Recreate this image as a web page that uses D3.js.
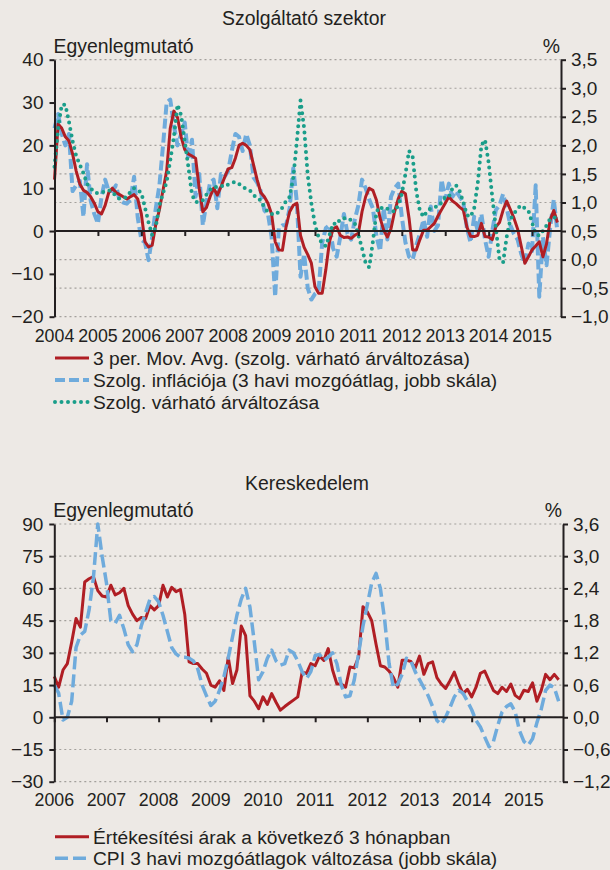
<!DOCTYPE html>
<html>
<head>
  <meta charset="utf-8">
  <title>Szolgáltató szektor / Kereskedelem</title>
  <script src="https://cdn.jsdelivr.net/npm/d3@7"></script>
  <style>
    body { margin: 0; background: #ede9e5; }
    svg { display: block; font-family: "Liberation Sans", Arial, sans-serif; }
    text { fill: #231f20; }
    .grid line { stroke: #a3a09c; stroke-width: 1.2; stroke-dasharray: 2 3; }
    .axis path, .axis line { stroke: #231f20; stroke-width: 2; }
    .axis text { font-size: 19px; }
    .year { font-size: 17.8px; }
    .title { font-size: 19.4px; }
    .legend text { font-size: 19.2px; }
  </style>
</head>
<body>
<script>
  // ---------- Szolgáltató szektor: havi adatok, 2004. jan – 2015. aug. ----------
  var topYears = [2004, 2005, 2006, 2007, 2008, 2009, 2010, 2011, 2012, 2013, 2014, 2015];
  var topLeftTicks = [-20, -10, 0, 10, 20, 30, 40];
  var topRightTicks = [-1, -0.5, 0, 0.5, 1, 1.5, 2, 2.5, 3, 3.5];

  // 3 per. Mov. Avg. (szolg. várható árváltozása) – bal skála
  var svcMovAvg = [
    12, 25, 24, 22, 21, 18, 14, 11, 9.5, 9,
    8, 6.5, 4.5, 4, 6, 9, 10, 9, 8.5, 8,
    7.5, 8, 8.5, 7.5, 4, -2.5, -3.7, -3.3, 1.5, 5,
    9.6, 14, 24, 28, 26.5, 22, 19, 18, 17.5, 17,
    10, 4.5, 5.5, 8, 10, 8.4, 10.3, 12.5, 14.5, 14.8,
    17, 20, 20.5, 20, 19, 15.5, 12, 9, 8, 6.5,
    4, -2.5, -4.4, -4.5, 1, 4.5, 6, 6.5, -1, -3.8,
    -5.5, -7.5, -13, -14.5, -14.5, -9, -2.5, 0.5, 1, -1,
    -1.5, -1.4, -1.7, -1, -0.5, 4.5, 8, 10, 9.5, 7.2,
    3, 0.2, -1.4, 0.5, 4.5, 7.5, 9.3, 8.7, 3, -4.4,
    -4.4, -2, 0.2, 0.2, 1, 1.8, 3.5, 5, 6.5, 8,
    7, 6.4, 5.6, 4.9, 0.9, -1.2, -1.3, -1, 1.8, -1.3,
    -1.4, -2, 1, 2, 4.9, 7, 5, 3, 0.5, -3.5,
    -7.5, -6, -4.4, -3.5, -2.5, -6, -3, 2.6, 4.8, 2
  ];

  // Szolg. inflációja (3 havi mozgóátlag) – jobb skála, %
  var svcInflation = [
    2.3, 2.55, 2.2, 2.0, 2.2, 1.2, 1.3, 1.38, 0.75, 1.67,
    1.03, 0.8, 0.63, 1.1, 1.4, 1.2, 1.2, 1.3, 1.03, 1.0,
    0.98, 1.05, 1.45, 0.74, 0.35, 0.3, -0.01, 0.4, 0.9, 1.3,
    2.0, 2.75, 2.8, 2.35, 2.0, 2.2, 2.4, 1.75, 2.1, 1.1,
    1.5, 0.6, 1.0, 1.35, 1.4, 0.9, 1.5, 1.45, 1.55, 1.9,
    2.2, 2.15, 1.9, 2.2, 2.0, 1.44, 1.35, 1.2, 0.86, 0.8,
    0.4, -0.65, 0.55, 0.6, 0.6, 0.9, 1.6, 1.0, -0.3, 0.1,
    -0.5, -0.7, -0.6, -0.55, 0.3, 0.55, 0.6, 0.2, 0.05, 0.4,
    0.8, 0.45, 0.35, 0.7, 0.95, 1.4, 1.25, 1.05, 0.9, 0.4,
    0.15, 0.9, 0.35, 1.1, 1.25, 1.33, 0.75, 0.3, 0.05, 0.0,
    0.25, 0.45, 0.7, 0.4, 0.93, 0.5, 0.6, 1.4, 1.05, 1.33,
    1.1, 1.2, 1.1, 1.0, 0.55, 0.3, 0.75, 0.5, 0.8, 0.35,
    0.05, 0.5, 0.87, 0.95, 1.15, 0.9, 0.6, 0.45, 0.35, 0.1,
    -0.07, 0.28, 0.15, 1.3, -0.65, 0.4, -0.1, 0.55, 1.05, 0.5
  ];

  // Szolg. várható árváltozása – bal skála
  var svcExpected = [
    15, 24, 29.5, 29.5, 25.5, 21, 17.5, 15.5, 13.5, 11,
    10, 9, 8.8, 9, 9.2, 9.5, 9.2, 8, 7.5, 7.6,
    8, 9.2, 10, 9.5, 9, 5.5, 2, -0.9, 1, 6,
    8.8, 11.5, 16.5, 22, 29.5, 27, 21, 15, 8.5, 6.8,
    6.8, 7.2, 8.5, 9.6, 10.3, 10.3, 10.3, 11, 10.8, 11.2,
    11.5, 11, 10.3, 9.8, 9.5, 8.5, 7.6, 7.2, 5.5, 4.5,
    4, 3.8, 4.5, 5.5, 7, 8, 12.5, 21, 30.5, 24,
    13, 6.5, 1.5, -1.5, -3, -3.5, -1, 1.8, 1.5, 2.8,
    3, 3, 2.5, 1.8, -1, -4, -7.5, -8.5, -2.5, 4.5,
    5.7, 5, 5.2, 4.8, 4.5, 6, 8.7, 13.3, 18.7, 17.3,
    9.3, 4.7, 3.3, 4.7, 5.3, 5.6, 5.7, 6.7, 8, 8,
    10, 10.7, 9.3, 6.7, 3.7, 3.3, 5.3, 11.3, 20, 21.3,
    16, 8, 0.7, -6.7, -7.3, -1.3, 2.7, 4, 5.3, 6,
    5.3, 4.7, 2, -0.7, -1.1, 0, 1.3, 2.9, 3.1, 3.3
  ];

  // ---------- Kereskedelem: havi adatok, 2006. jan – 2015. szept. ----------
  var botYears = [2006, 2007, 2008, 2009, 2010, 2011, 2012, 2013, 2014, 2015];
  var botLeftTicks = [-30, -15, 0, 15, 30, 45, 60, 75, 90];
  var botRightTicks = [-1.2, -0.6, 0, 0.6, 1.2, 1.8, 2.4, 3.0, 3.6];

  // Értékesítési árak a következő 3 hónapban – bal skála
  var tradePrices = [
    19, 14, 22, 25, 35, 46, 42, 63, 64.5, 65.5,
    59, 56.5, 56, 61.5, 57, 58, 60, 52, 48, 45,
    46.5, 46, 52, 50, 52, 61.5, 56, 60.5, 58.5, 59.5,
    48, 25.8, 25, 25, 22.5, 20.5, 15, 14, 17, 12.5,
    28, 15.7, 22, 42.5, 38, 10, 7.5, 4, 9.5, 6,
    11, 7, 3.3, 5, 6.5, 8, 9.5, 21, 20.4, 25,
    24, 28.5, 26.5, 32, 22, 15.5, 15.5, 14, 23.4, 23,
    28, 51.5, 49, 45, 34, 24, 23.4, 21.5, 18.5, 14,
    26.6, 26.6, 26, 23, 28.5, 20, 25, 25.8, 18.5, 15.5,
    13.4, 17, 21, 15.5, 11, 13, 9.5, 14, 20.5, 21.5,
    17, 12.5, 11, 14, 12, 15.5, 10.2, 8.7, 12.6, 12,
    16, 7.5, 12.5, 20, 17.5, 20, 17.5
  ];

  // CPI 3 havi mozgóátlagok változása – jobb skála, %
  var cpiChange = [
    0.6, 0.45, -0.05, 0.0, 0.3, 1.3, 1.53, 1.6, 2.0, 2.6,
    3.6, 3.0, 2.5, 1.8, 1.75, 1.9, 1.65, 1.35, 1.22, 1.35,
    1.7, 1.95, 2.2, 2.25, 2.15, 1.9, 1.6, 1.3, 1.18, 1.12,
    1.12, 1.1, 1.05, 0.9, 0.6, 0.4, 0.22, 0.3, 0.5, 0.75,
    1.1, 1.5, 1.9, 2.2, 2.4, 2.05, 1.4, 0.7, 0.85, 1.1,
    1.25, 1.05, 0.97, 1.0, 1.25, 1.2, 1.05, 0.85, 0.72, 0.85,
    1.15, 1.17, 1.06, 1.12, 1.2, 1.0, 0.6, 0.38, 0.4, 0.7,
    1.2, 1.7, 2.1, 2.5, 2.68, 2.4, 1.8, 1.0, 0.55, 0.62,
    0.8, 1.1, 1.05, 0.85, 0.7, 0.55, 0.4, 0.2, -0.06, -0.13,
    0.0, 0.18, 0.38, 0.5, 0.45, 0.3, 0.14, -0.06, -0.18, -0.37,
    -0.55, -0.45, -0.15, 0.1, 0.2, 0.25, 0.1, -0.25, -0.45, -0.52,
    -0.4, -0.1, 0.15, 0.5, 0.6, 0.55, 0.3
  ];

  var RED = "#b01e24", BLUE = "#6fabdc", TEAL = "#1a9e8a";

  var hu = d3.formatLocale({ decimal: ",", thousands: " ", grouping: [3], currency: ["", ""], minus: "\u2212" });
  var fmtInt = hu.format("d"), fmt1 = hu.format(".1f");

  var svg = d3.select("body").append("svg")
      .attr("width", 610)
      .attr("height", 870);

  svg.append("rect").attr("width", 610).attr("height", 870).attr("fill", "#ede9e5");

  // draws one panel (both charts share the same structure)
  function drawPanel(cfg) {
    var g = svg.append("g");

    var x = d3.scaleLinear().domain([0, cfg.monthSpan]).range([cfg.left, cfg.right]);
    var yL = d3.scaleLinear().domain(cfg.leftDomain).range([cfg.bottom, cfg.top]);
    var yR = d3.scaleLinear().domain(cfg.rightDomain).range([cfg.bottom, cfg.top]);

    // dotted gridlines
    g.append("g").attr("class", "grid")
      .selectAll("line")
      .data(cfg.gridTicks)
      .enter().append("line")
        .attr("x1", cfg.left).attr("x2", cfg.right)
        .attr("y1", function(d) { return yR(d); })
        .attr("y2", function(d) { return yR(d); });

    // series, drawn in z-order
    cfg.drawOrder.forEach(function(k) {
      var s = cfg.series[k];
      var y = s.axis === "right" ? yR : yL;
      var line = d3.line()
        .x(function(d, i) { return x(i); })
        .y(function(d) { return y(d); });
      g.append("path")
        .datum(s.values)
        .attr("fill", "none")
        .attr("stroke", s.color)
        .attr("stroke-width", s.width)
        .attr("stroke-dasharray", s.dash || null)
        .attr("stroke-linecap", s.cap || "butt")
        .attr("stroke-linejoin", "round")
        .attr("d", line);
    });

    // zero line with yearly ticks
    var yearTicks = cfg.years.map(function(yr, i) { return i * 12; });
    g.append("g").attr("class", "axis")
      .attr("transform", "translate(0," + yL(0) + ")")
      .call(d3.axisBottom(x).tickValues(yearTicks).tickSize(5).tickSizeOuter(0).tickFormat(""))
      .select(".domain").attr("d", "M" + cfg.left + ",0H" + cfg.right);

    g.append("g").selectAll("text")
      .data(cfg.years)
      .enter().append("text")
        .attr("class", "year")
        .attr("x", function(d, i) { return x(i * 12); })
        .attr("y", cfg.yearBaseline)
        .attr("text-anchor", "middle")
        .text(function(d) { return d; });

    // left and right axes
    g.append("g").attr("class", "axis")
      .attr("transform", "translate(" + cfg.left + ",0)")
      .call(d3.axisLeft(yL).tickValues(cfg.leftTicks).tickSize(5).tickSizeOuter(0).tickPadding(6).tickFormat(fmtInt));

    g.append("g").attr("class", "axis")
      .attr("transform", "translate(" + cfg.right + ",0)")
      .call(d3.axisRight(yR).tickValues(cfg.rightTicks).tickSize(5).tickSizeOuter(0).tickPadding(5).tickFormat(fmt1));

    // titles
    g.append("text").attr("class", "title")
      .attr("x", cfg.titleX).attr("y", cfg.titleY)
      .attr("text-anchor", "middle")
      .text(cfg.title);
    g.append("text").attr("class", "title")
      .attr("x", cfg.left - 1).attr("y", cfg.unitY)
      .text("Egyenlegmutató");
    g.append("text").attr("class", "title")
      .attr("x", cfg.right - 1).attr("y", cfg.unitY)
      .attr("text-anchor", "end")
      .text("%");

    // legend, in the order of the series list
    var leg = g.append("g").attr("class", "legend");
    cfg.series.forEach(function(s, i) {
      var ly = cfg.legendY + i * cfg.legendStep;
      leg.append("line")
        .attr("x1", 55).attr("x2", 89)
        .attr("y1", ly).attr("y2", ly)
        .attr("stroke", s.color)
        .attr("stroke-width", s.width)
        .attr("stroke-dasharray", s.dash || null)
        .attr("stroke-linecap", s.cap || "butt");
      leg.append("text")
        .attr("x", 93).attr("y", ly + 6.9)
        .text(s.label);
    });
  }

  drawPanel({
    title: "Szolgáltató szektor", titleX: 304, titleY: 25, unitY: 52.5,
    left: 54.5, right: 561, top: 59.7, bottom: 316.7, monthSpan: 140,
    leftDomain: [-20, 40], rightDomain: [-1, 3.5],
    leftTicks: topLeftTicks, rightTicks: topRightTicks, gridTicks: topRightTicks,
    years: topYears, yearBaseline: 342,
    legendY: 358, legendStep: 22,
    drawOrder: [1, 0, 2],
    series: [
      { label: "3 per. Mov. Avg. (szolg. várható árváltozása)", values: svcMovAvg, axis: "left", color: RED, width: 3 },
      { label: "Szolg. inflációja (3 havi mozgóátlag, jobb skála)", values: svcInflation, axis: "right", color: BLUE, width: 4, dash: "10 4" },
      { label: "Szolg. várható árváltozása", values: svcExpected, axis: "left", color: TEAL, width: 4, dash: "0 6.5", cap: "round" }
    ]
  });

  drawPanel({
    title: "Kereskedelem", titleX: 307, titleY: 490, unitY: 516.5,
    left: 54.3, right: 563, top: 524, bottom: 781.7, monthSpan: 117,
    leftDomain: [-30, 90], rightDomain: [-1.2, 3.6],
    leftTicks: botLeftTicks, rightTicks: botRightTicks, gridTicks: botRightTicks,
    years: botYears, yearBaseline: 806,
    legendY: 836.7, legendStep: 21.6,
    drawOrder: [0, 1],
    series: [
      { label: "Értékesítési árak a következő 3 hónapban", values: tradePrices, axis: "left", color: RED, width: 3 },
      { label: "CPI 3 havi mozgóátlagok változása (jobb skála)", values: cpiChange, axis: "right", color: BLUE, width: 3.5, dash: "13 5" }
    ]
  });
</script>
</body>
</html>
